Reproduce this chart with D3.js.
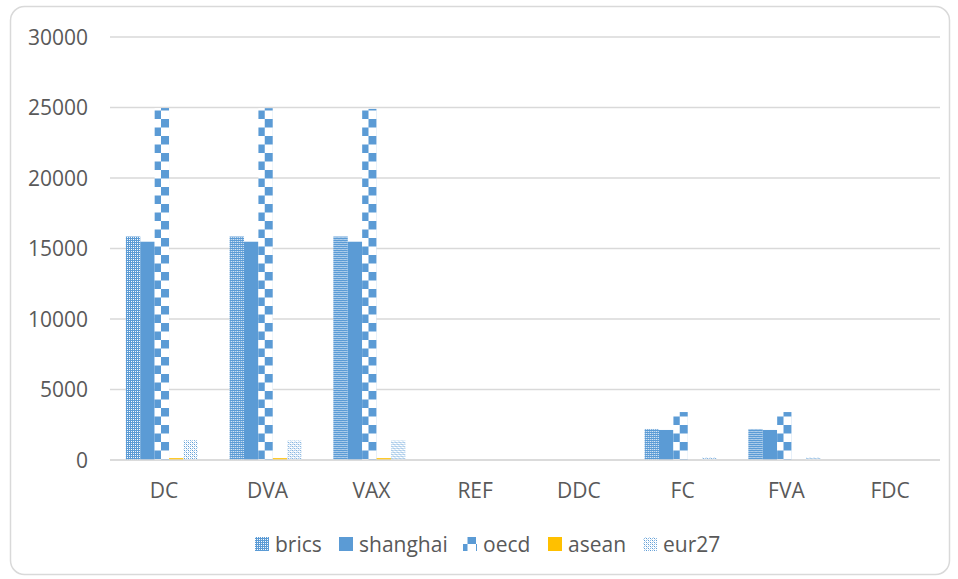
<!DOCTYPE html>
<html><head><meta charset="utf-8">
<script src="https://cdn.jsdelivr.net/npm/d3@7"></script>
<style>body{margin:0;background:#fff;} text{font-family:"Open Sans",sans-serif;fill:#595959;}</style>
</head><body>
<svg id="c" width="958" height="579"></svg>
<script>
const categories = ["DC","DVA","VAX","REF","DDC","FC","FVA","FDC"];
const seriesNames = ["brics","shanghai","oecd","asean","eur27"];
const brics    = [15850,15850,15850,0,0,2200,2200,0];
const shanghai = [15480,15480,15480,0,0,2130,2130,0];
const oecd     = [24960,24950,24900,0,0,3400,3400,0];
const asean    = [130,130,130,0,0,0,0,0];
const eur27    = [1400,1380,1380,0,0,200,200,0];
const yTicks   = [0,5000,10000,15000,20000,25000,30000];

const values = [brics, shanghai, oecd, asean, eur27];
const svg = d3.select("#c");
const blue = "#5B9BD5", orange = "#FFC000";

const defs = svg.append("defs");
function px(p, x, y, c){ p.append("rect").attr("x",x).attr("y",y).attr("width",1).attr("height",1).attr("fill",c); }
// brics: blue with white dot grid
const p1 = defs.append("pattern").attr("id","p-brics").attr("patternUnits","userSpaceOnUse").attr("width",4).attr("height",4);
p1.append("rect").attr("width",4).attr("height",4).attr("fill",blue);
px(p1,1,1,"#fff"); px(p1,3,3,"#fff"); px(p1,1,3,"#e6eff8"); px(p1,3,1,"#e6eff8");
// oecd: large checker
const p3 = defs.append("pattern").attr("id","p-oecd").attr("patternUnits","userSpaceOnUse").attr("width",17).attr("height",17);
p3.append("rect").attr("width",17).attr("height",17).attr("fill","#fff");
p3.append("rect").attr("x",0).attr("y",0).attr("width",8.5).attr("height",8.5).attr("fill",blue);
p3.append("rect").attr("x",8.5).attr("y",8.5).attr("width",8.5).attr("height",8.5).attr("fill",blue);
// eur27: light dotted
const p5 = defs.append("pattern").attr("id","p-eur27").attr("patternUnits","userSpaceOnUse").attr("width",4).attr("height",4);
p5.append("rect").attr("width",4).attr("height",4).attr("fill","#fff");
px(p5,0,0,blue); px(p5,2,2,blue); px(p5,2,0,"#8db8e2"); px(p5,0,2,"#8db8e2");
px(p5,1,1,"#c5dcf0"); px(p5,3,3,"#c5dcf0");

const fills = ["url(#p-brics)", blue, "url(#p-oecd)", orange, "url(#p-eur27)"];

svg.append("rect").attr("x",10.5).attr("y",6.5).attr("width",939).attr("height",568)
  .attr("rx",14).attr("fill","#fff").attr("stroke","#d9d9d9").attr("stroke-width",1.5);

const x0 = d3.scaleBand().domain(categories).range([110,940]).paddingInner(0).paddingOuter(0);
const x1 = d3.scaleBand().domain(seriesNames).range([0,x0.bandwidth()]).paddingInner(0).paddingOuter(1.1);
const y = d3.scaleLinear().domain([0,30000]).range([460,37]);

svg.append("g").selectAll("line").data(yTicks).join("line")
  .attr("x1",110).attr("x2",940).attr("y1",d=>y(d)).attr("y2",d=>y(d))
  .attr("stroke","#d9d9d9").attr("stroke-width",1.5);

svg.append("g").selectAll("text").data(yTicks).join("text")
  .attr("x",88).attr("y",d=>y(d)).attr("dy","0.36em").attr("text-anchor","end")
  .style("font-size","21px").text(d=>d);

categories.forEach((c,i)=>{
  const g = svg.append("g").attr("transform",`translate(${x0(c)},0)`);
  seriesNames.forEach((s,j)=>{
    const v = values[j][i];
    if (v<=0) return;
    g.append("rect").attr("x",x1(s)).attr("width",x1.bandwidth())
      .attr("y",y(v)).attr("height",y(0)-y(v)).attr("fill",fills[j]);
  });
});

svg.append("line").attr("x1",110).attr("x2",940).attr("y1",y(0)).attr("y2",y(0))
  .attr("stroke","#d9d9d9").attr("stroke-width",1.5);

svg.append("g").selectAll("text").data(categories).join("text")
  .attr("x",d=>x0(d)+x0.bandwidth()/2+2).attr("y",498).attr("text-anchor","middle")
  .style("font-size","21px").text(d=>d);

const legX = [255,339,463,548,643];
const leg = svg.append("g");
seriesNames.forEach((s,j)=>{
  leg.append("rect").attr("x",legX[j]).attr("y",537).attr("width",14).attr("height",14)
    .attr("fill",fills[j]);
  leg.append("text").attr("x",legX[j]+20).attr("y",552).style("font-size","21px").text(s);
});
</script>
</body></html>
